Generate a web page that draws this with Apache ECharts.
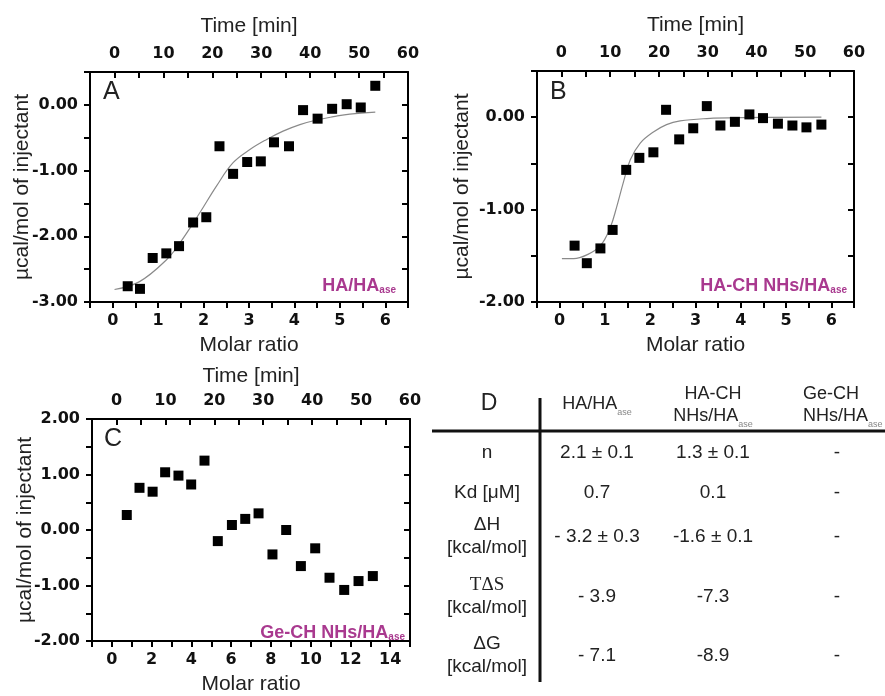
<!DOCTYPE html>
<html>
<head>
<meta charset="utf-8">
<script src="https://cdn.jsdelivr.net/npm/echarts@6/dist/echarts.min.js"></script>
<style>
  html, body { margin: 0; padding: 0; background: #fff; }
  #chart { width: 885px; height: 696px; }
</style>
</head>
<body>
<div id="chart"></div>
<script>
// panel A : HA/HAase
const ratioA = [0.33, 0.60, 0.88, 1.18, 1.46, 1.77, 2.06, 2.35, 2.65, 2.96, 3.26, 3.55, 3.88, 4.19, 4.51, 4.83, 5.15, 5.46, 5.78];
const heatA = [-2.76, -2.80, -2.33, -2.26, -2.15, -1.79, -1.71, -0.63, -1.05, -0.87, -0.86, -0.57, -0.63, -0.08, -0.21, -0.06, 0.01, -0.04, 0.29];
const fitRatioA = [0.04, 0.59, 1.18, 1.47, 1.91, 2.28, 2.65, 3.02, 3.38, 3.75, 4.12, 4.49, 4.86, 5.22, 5.78];
const fitHeatA = [-2.81, -2.69, -2.36, -2.11, -1.65, -1.24, -0.88, -0.68, -0.53, -0.40, -0.30, -0.23, -0.18, -0.14, -0.11];

// panel B : HA-CH NHs/HAase
const ratioB = [0.33, 0.60, 0.90, 1.17, 1.47, 1.76, 2.07, 2.35, 2.64, 2.95, 3.25, 3.55, 3.87, 4.19, 4.49, 4.82, 5.14, 5.45, 5.78];
const heatB = [-1.39, -1.58, -1.42, -1.22, -0.57, -0.44, -0.38, 0.08, -0.24, -0.12, 0.12, -0.09, -0.05, 0.03, -0.01, -0.07, -0.09, -0.11, -0.08];
const fitRatioB = [0.05, 0.31, 0.60, 0.90, 1.12, 1.26, 1.41, 1.56, 1.78, 2.07, 2.36, 2.66, 3.25, 3.98, 5.78];
const fitHeatB = [-1.53, -1.53, -1.49, -1.39, -1.19, -0.97, -0.70, -0.46, -0.28, -0.16, -0.08, -0.04, -0.015, -0.005, 0];

// panel C : Ge-CH NHs/HAase
const ratioC = [0.75, 1.39, 2.05, 2.68, 3.35, 3.99, 4.66, 5.33, 6.04, 6.71, 7.38, 8.08, 8.77, 9.51, 10.23, 10.95, 11.69, 12.41, 13.13];
const heatC = [0.27, 0.76, 0.69, 1.04, 0.98, 0.82, 1.25, -0.20, 0.09, 0.20, 0.30, -0.44, 0.00, -0.65, -0.33, -0.86, -1.08, -0.92, -0.83];

// table D
const tableCols = ['HA/HA', 'HA-CH NHs/HA', 'Ge-CH NHs/HA'];
const tableRows = [['n'], ['Kd [μM]'], ['ΔH', '[kcal/mol]'], ['TΔS', '[kcal/mol]'], ['ΔG', '[kcal/mol]']];
const tableVals = [
  ['2.1 ± 0.1', '1.3 ± 0.1', '-'],
  ['0.7', '0.1', '-'],
  ['- 3.2 ± 0.3', '-1.6 ± 0.1', '-'],
  ['- 3.9', '-7.3', '-'],
  ['- 7.1', '-8.9', '-']
];

const purple = '#a9398f';
const tickFont = { fontFamily: 'DejaVu Sans', fontWeight: 'bold', fontSize: 16, color: '#111' };
const nameFont = { fontFamily: 'Liberation Sans', fontSize: 21, color: '#222' };
const lineStyle = { color: '#000', width: 2 };

function pairs(xs, ys) {
  return xs.map((x, i) => [x, ys[i]]);
}

const panels = [
  { grid: { left: 90, top: 72, width: 318, height: 230 }, xmin: -0.5, xmax: 6.5, xint: 0.5, xstep: 1, ymin: -3, ymax: 0.5, yGap: 57, tGap: 35 },
  { grid: { left: 537, top: 71, width: 317, height: 231 }, xmin: -0.5, xmax: 6.5, xint: 0.5, xstep: 1, ymin: -2, ymax: 0.5, yGap: 64, tGap: 35 },
  { grid: { left: 92, top: 419, width: 318, height: 229 }, xmin: -1, xmax: 15, xint: 1, xstep: 2, ymin: -2, ymax: 2, yGap: 56, tGap: 32 }
];

const grids = [], xAxes = [], yAxes = [], series = [];
panels.forEach((p, i) => {
  grids.push(p.grid);
  // bottom: molar ratio
  xAxes.push({
    gridIndex: i, type: 'value', position: 'bottom', min: p.xmin, max: p.xmax, interval: p.xint,
    name: 'Molar ratio', nameLocation: 'middle', nameGap: 33, nameMoveOverlap: false, nameTextStyle: nameFont,
    axisLine: { onZero: false, lineStyle: lineStyle },
    axisTick: { length: 6, lineStyle: lineStyle },
    splitLine: { show: false },
    axisLabel: Object.assign({ margin: 11, formatter: v => {
      const r = Math.round(v * 100) / 100;
      return (r >= 0 && Number.isInteger(r) && r % p.xstep === 0 && r <= p.xmax - p.xint) ? String(r) : '';
    } }, tickFont)
  });
  // top: time
  xAxes.push({
    gridIndex: i, type: 'value', position: 'top', min: -5, max: 60, interval: 5,
    name: 'Time [min]', nameLocation: 'middle', nameGap: p.tGap, nameMoveOverlap: false, nameTextStyle: nameFont,
    axisLine: { onZero: false, lineStyle: lineStyle },
    axisTick: { inside: true, length: 6, lineStyle: lineStyle },
    splitLine: { show: false },
    axisLabel: Object.assign({ margin: 10, formatter: v => (v >= 0 && v % 10 === 0) ? String(v) : '' }, tickFont)
  });
  yAxes.push({
    gridIndex: i, type: 'value', position: 'left', min: p.ymin, max: p.ymax, interval: 0.5,
    name: 'µcal/mol of injectant', nameLocation: 'middle', nameGap: p.yGap, nameMoveOverlap: false, nameTextStyle: nameFont,
    axisLine: { onZero: false, lineStyle: lineStyle },
    axisTick: { length: 6, lineStyle: lineStyle },
    splitLine: { show: false },
    axisLabel: Object.assign({ margin: 12, formatter: v => Number.isInteger(v) ? v.toFixed(2) : '' }, tickFont)
  });
  yAxes.push({
    gridIndex: i, type: 'value', position: 'right', min: p.ymin, max: p.ymax, interval: 0.5,
    axisLine: { onZero: false, lineStyle: lineStyle },
    axisTick: { inside: true, length: 6, lineStyle: lineStyle },
    splitLine: { show: false },
    axisLabel: { show: false }
  });
});

function scatter(i, xs, ys) {
  return {
    type: 'scatter', xAxisIndex: i * 2, yAxisIndex: i * 2, data: pairs(xs, ys),
    symbol: 'rect', symbolSize: 10, itemStyle: { color: '#000', opacity: 1 }, silent: true
  };
}
function fit(i, xs, ys) {
  return {
    type: 'line', xAxisIndex: i * 2, yAxisIndex: i * 2, data: pairs(xs, ys), smooth: 0.4,
    showSymbol: false, lineStyle: { color: '#8a8a8a', width: 1.2 }, silent: true, z: 1
  };
}
series.push(fit(0, fitRatioA, fitHeatA), scatter(0, ratioA, heatA));
series.push(fit(1, fitRatioB, fitHeatB), scatter(1, ratioB, heatB));
series.push(scatter(2, ratioC, heatC));

// texts inside the plots
const graphic = [];
const panelLetters = [['A', 103, 80], ['B', 550, 80], ['C', 104, 427]];
panelLetters.forEach(l => {
  graphic.push({ type: 'text', left: l[1], top: l[2], style: { text: l[0], fontFamily: 'Liberation Sans', fontSize: 25, fill: '#222' } });
});
const purpleRich = {
  m: { fontFamily: 'Liberation Sans', fontWeight: 'bold', fontSize: 18, lineHeight: 18, verticalAlign: 'top', fill: purple },
  s: { fontFamily: 'Liberation Sans', fontWeight: 'bold', fontSize: 10, lineHeight: 10, padding: [11, 0, 0, 0], verticalAlign: 'bottom', fill: purple }
};
const plotTags = [['HA/HA', 396, 277], ['HA-CH NHs/HA', 847, 277], ['Ge-CH NHs/HA', 405, 624]];
plotTags.forEach(t => {
  graphic.push({
    type: 'text', x: t[1], y: t[2],
    style: { text: '{m|' + t[0] + '}{s|ase}', rich: purpleRich, align: 'right', verticalAlign: 'top', fill: purple }
  });
});

// table D
const colX = [597, 713, 837];
const rowX = 487;
const rowY = [453, 493, 537, 597, 656];
const tFont = { fontFamily: 'Liberation Sans', fontSize: 19, fill: '#222' };
graphic.push({ type: 'line', shape: { x1: 432, y1: 431, x2: 885, y2: 431 }, style: { stroke: '#111', lineWidth: 3 } });
graphic.push({ type: 'line', shape: { x1: 540, y1: 398, x2: 540, y2: 682 }, style: { stroke: '#111', lineWidth: 3 } });
graphic.push({ type: 'text', x: 489, y: 404, style: Object.assign({}, tFont, { text: 'D', fontSize: 23, align: 'center', verticalAlign: 'middle' }) });
const headRich = {
  m: { fontFamily: 'Liberation Sans', fontSize: 18, lineHeight: 22, verticalAlign: 'top', fill: '#222' },
  s: { fontFamily: 'Liberation Sans', fontSize: 9, lineHeight: 9, padding: [14, 0, 0, 0], verticalAlign: 'bottom', fill: '#888' }
};
tableCols.forEach((c, j) => {
  const parts = c.split(' ');
  let text;
  if (parts.length === 1) {
    text = '{m|' + parts[0] + '}{s|ase}';
  } else {
    text = '{m|' + parts[0] + '}\n{m|' + parts[1] + '}{s|ase}';
  }
  const lines = parts.length;
  graphic.push({
    type: 'text', x: j === 2 ? 803 : colX[j], y: lines === 1 ? 395 : 385,
    style: { text: text, rich: headRich, align: j === 2 ? 'left' : 'center', verticalAlign: 'top' }
  });
});
tableRows.forEach((r, k) => {
  if (r.length === 1) {
    graphic.push({ type: 'text', x: rowX, y: rowY[k], style: Object.assign({}, tFont, { text: r[0], align: 'center', verticalAlign: 'middle' }) });
  } else {
    graphic.push({ type: 'text', x: rowX, y: rowY[k] - 12, style: Object.assign({}, tFont, { text: r[0], align: 'center', verticalAlign: 'middle', fontFamily: k === 3 ? 'Liberation Serif' : 'Liberation Sans' }) });
    graphic.push({ type: 'text', x: rowX, y: rowY[k] + 11, style: Object.assign({}, tFont, { text: r[1], align: 'center', verticalAlign: 'middle' }) });
  }
  tableVals[k].forEach((v, j) => {
    graphic.push({ type: 'text', x: colX[j], y: rowY[k], style: Object.assign({}, tFont, { text: v, align: 'center', verticalAlign: 'middle' }) });
  });
});

const chart = echarts.init(document.getElementById('chart'), null, { renderer: 'canvas' });
chart.setOption({
  backgroundColor: '#fff',
  animation: false,
  grid: grids,
  xAxis: xAxes,
  yAxis: yAxes,
  series: series,
  graphic: graphic
});
</script>
</body>
</html>
